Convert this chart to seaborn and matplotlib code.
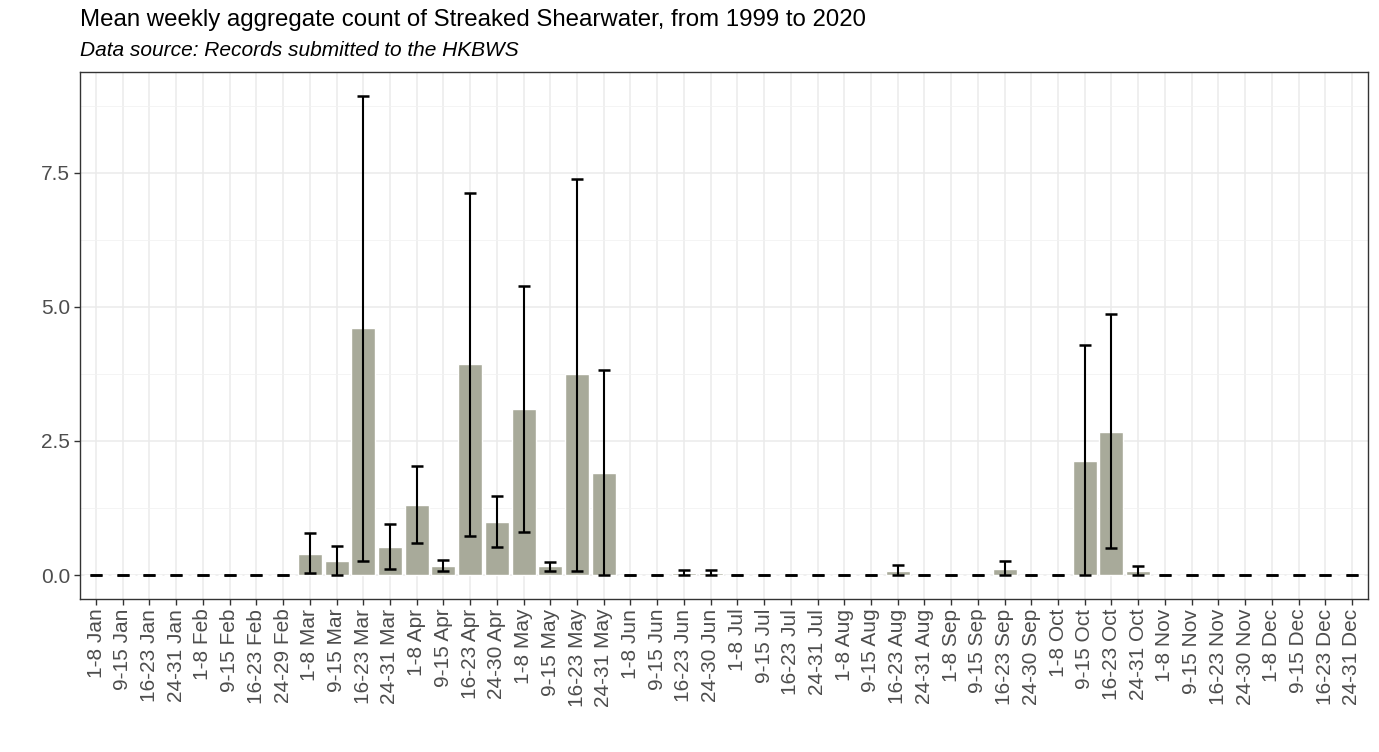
import numpy as np
import pandas as pd
import matplotlib
matplotlib.use("Agg")
import matplotlib.pyplot as plt
import seaborn as sns
from matplotlib.ticker import MultipleLocator

months = ["Jan", "Feb", "Mar", "Apr", "May", "Jun",
          "Jul", "Aug", "Sep", "Oct", "Nov", "Dec"]
last_days = ["31", "29", "31", "30", "31", "30", "31", "31", "30", "31", "30", "31"]
weeks = []
for m, d in zip(months, last_days):
    weeks += ["1-8 " + m, "9-15 " + m, "16-23 " + m, "24-" + d + " " + m]

mean_count = [0, 0, 0, 0,
              0, 0, 0, 0,
              0.40, 0.26, 4.60, 0.53,
              1.31, 0.17, 3.93, 0.99,
              3.09, 0.17, 3.74, 1.90,
              0, 0, 0.04, 0.04,
              0, 0, 0, 0,
              0, 0, 0.08, 0,
              0, 0, 0.12, 0,
              0, 2.13, 2.67, 0.08,
              0, 0, 0, 0,
              0, 0, 0, 0]
lower = [0, 0, 0, 0,
         0, 0, 0, 0,
         0.04, 0.0, 0.27, 0.12,
         0.59, 0.07, 0.73, 0.52,
         0.81, 0.08, 0.08, 0.0,
         0, 0, 0.01, 0.01,
         0, 0, 0, 0,
         0, 0, 0.0, 0,
         0, 0, 0.0, 0,
         0, 0.0, 0.50, 0.0,
         0, 0, 0, 0,
         0, 0, 0, 0]
upper = [0, 0, 0, 0,
         0, 0, 0, 0,
         0.78, 0.54, 8.93, 0.96,
         2.04, 0.28, 7.13, 1.48,
         5.38, 0.25, 7.39, 3.83,
         0, 0, 0.09, 0.09,
         0, 0, 0, 0,
         0, 0, 0.18, 0,
         0, 0, 0.27, 0,
         0, 4.28, 4.87, 0.17,
         0, 0, 0, 0,
         0, 0, 0, 0]

df = pd.DataFrame({"week": weeks, "mean": mean_count, "lower": lower, "upper": upper})

sns.set_theme(style="whitegrid")
plt.rcParams["font.family"] = ["Liberation Sans", "DejaVu Sans"]

fig, ax = plt.subplots(figsize=(13.79, 7.52), dpi=100)
fig.subplots_adjust(left=80 / 1379, right=1368 / 1379, top=1 - 72 / 752, bottom=1 - 599 / 752)

sns.barplot(data=df, x="week", y="mean", color="#a8aa9a", saturation=1,
            width=0.9, order=weeks, ax=ax, zorder=2)

# error bars (precomputed intervals)
pos = np.arange(len(df))
ax.errorbar(pos, df["mean"],
            yerr=[df["mean"] - df["lower"], df["upper"] - df["mean"]],
            fmt="none", ecolor="black", elinewidth=1.5, capsize=4.5, capthick=1.8, zorder=3)

ymax = max(upper)
pad = ymax * 0.05
ax.set_ylim(-pad, ymax + pad)
ax.set_xlim(-0.6, len(weeks) - 0.4)
ax.yaxis.set_minor_locator(MultipleLocator(1.25))
ax.set_yticks([0, 2.5, 5.0, 7.5])
ax.set_yticklabels(["0.0", "2.5", "5.0", "7.5"])
ax.set_xticks(pos)
ax.set_xticklabels(weeks, rotation=90, ha="center", va="top")

ax.grid(which="major", color="#ebebeb", linewidth=1.1)
ax.grid(which="minor", axis="y", color="#f2f2f2", linewidth=0.6)
ax.set_axisbelow(True)
for s in ax.spines.values():
    s.set_color("#333333")
    s.set_linewidth(1.0)

ax.tick_params(axis="both", which="major", length=4, width=1, color="#333333",
               labelsize=15, labelcolor="#4d4d4d", pad=3)
ax.tick_params(axis="y", which="minor", length=0)
ax.tick_params(bottom=True, left=True)
ax.set_xlabel("")
ax.set_ylabel("")

fig.text(80 / 1379, 1 - 20 / 752, "Mean weekly aggregate count of Streaked Shearwater, from 1999 to 2020",
         fontsize=17.3, va="center", ha="left", color="black")
fig.text(80 / 1379, 1 - 51 / 752, "Data source: Records submitted to the HKBWS",
         fontsize=15, style="italic", va="center", ha="left", color="black")

fig.savefig("out.png", dpi=100)
